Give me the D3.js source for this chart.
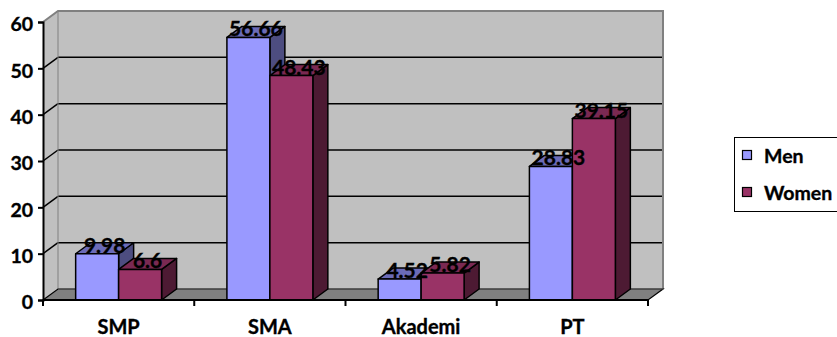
<!DOCTYPE html>
<html>
<head>
<meta charset="utf-8">
<script src="https://cdn.jsdelivr.net/npm/d3@7"></script>
<style>
  html, body { margin: 0; padding: 0; background: #fff; }
  svg { display: block; font-family: Lato, "Open Sans", sans-serif; font-weight: bold; }
  svg text { stroke: #000; stroke-width: 0.35px; }
</style>
</head>
<body>
<svg id="chart" width="837" height="337"></svg>
<script>
// Education level by gender (percent)
const categories = ["SMP", "SMA", "Akademi", "PT"];
const seriesNames = ["Men", "Women"];
const menValues = [9.98, 56.66, 4.52, 28.83];
const womenValues = [6.6, 48.43, 5.82, 39.15];
const yTicks = [0, 10, 20, 30, 40, 50, 60];

const seriesValues = [menValues, womenValues];
const colors = {
  Men:   { front: "#9999FF", top: "#6B6BB8", side: "#4D4D80" },
  Women: { front: "#993366", top: "#7A2952", side: "#4D1A33" }
};

const svg = d3.select("#chart");

// 3D depth offset of walls and bars
const DX = 15, DY = -11;

const y = d3.scaleLinear().domain([0, 60]).range([300, 22]);
const x = d3.scaleBand().domain(categories).range([43, 648]).paddingInner(0).paddingOuter(0);
const xSub = d3.scaleBand().domain(seriesNames).range([0, x.bandwidth()]).paddingInner(0).paddingOuter(0.76);

const x0 = x.range()[0], x1 = x.range()[1];
const yTop = y(60), yBase = y(0);

// Back wall
svg.append("polygon")
  .attr("points", [[x0 + DX, yTop + DY], [x1 + DX, yTop + DY], [x1 + DX, yBase + DY], [x0 + DX, yBase + DY]].join(" "))
  .attr("fill", "#C0C0C0");

// Left side wall
svg.append("polygon")
  .attr("points", [[x0, yTop], [x0 + DX, yTop + DY], [x0 + DX, yBase + DY], [x0, yBase]].join(" "))
  .attr("fill", "#C0C0C0");

// Gridlines on back and side walls
const grid = svg.append("g");
yTicks.filter(t => t > 0 && t < 60).forEach(t => {
  grid.append("line")
    .attr("x1", x0 + DX).attr("x2", x1 + DX)
    .attr("y1", y(t) + DY).attr("y2", y(t) + DY)
    .attr("stroke", "#000").attr("stroke-width", 1.5);
  grid.append("line")
    .attr("x1", x0).attr("x2", x0 + DX)
    .attr("y1", y(t)).attr("y2", y(t) + DY)
    .attr("stroke", "#000").attr("stroke-width", 1.5);
});

// Wall outlines
svg.append("polyline")
  .attr("points", [[x0, yTop], [x0 + DX, yTop + DY], [x1 + DX, yTop + DY], [x1 + DX, yBase + DY]].join(" "))
  .attr("fill", "none").attr("stroke", "#808080").attr("stroke-width", 2);
svg.append("line")
  .attr("x1", x0 + DX).attr("x2", x0 + DX).attr("y1", yTop + DY).attr("y2", yBase + DY)
  .attr("stroke", "#808080").attr("stroke-width", 1);

// Floor
svg.append("polygon")
  .attr("points", [[x0, yBase], [x0 + DX, yBase + DY], [x1 + DX, yBase + DY], [x1, yBase]].join(" "))
  .attr("fill", "#808080").attr("stroke", "#000").attr("stroke-width", 1.2);
svg.append("line")
  .attr("x1", x0 + DX).attr("x2", x1 + DX).attr("y1", yBase + DY).attr("y2", yBase + DY)
  .attr("stroke", "#5a5a5a").attr("stroke-width", 1);

// Bars
const bars = svg.append("g").attr("stroke", "#000").attr("stroke-width", 1.5).attr("stroke-linejoin", "round");
categories.forEach((cat, i) => {
  seriesNames.forEach((s, j) => {
    const v = seriesValues[j][i];
    const bx = x(cat) + xSub(s);
    const w = xSub.bandwidth();
    const yt = y(v);
    const c = colors[s];
    bars.append("polygon")
      .attr("points", [[bx + w, yt], [bx + w + DX, yt + DY], [bx + w + DX, yBase + DY], [bx + w, yBase]].join(" "))
      .attr("fill", c.side);
    bars.append("polygon")
      .attr("points", [[bx, yt], [bx + DX, yt + DY], [bx + w + DX, yt + DY], [bx + w, yt]].join(" "))
      .attr("fill", c.top);
    bars.append("rect")
      .attr("x", bx).attr("y", yt).attr("width", w).attr("height", yBase - yt)
      .attr("fill", c.front);
  });
});

// Value labels
const labels = svg.append("g").attr("font-size", 21).attr("text-anchor", "middle").attr("fill", "#000");
categories.forEach((cat, i) => {
  seriesNames.forEach((s, j) => {
    const v = seriesValues[j][i];
    labels.append("text")
      .attr("x", x(cat) + xSub(s) + xSub.bandwidth() / 2 + DX / 2)
      .attr("y", y(v) - 1)
      .text(v);
  });
});

// Y axis
const yAxis = d3.axisLeft(y).tickValues(yTicks).tickSize(5).tickPadding(5);
const gy = svg.append("g").attr("transform", `translate(${x0},0)`).call(yAxis);
gy.select(".domain").attr("stroke", "#000").attr("stroke-width", 2);
gy.selectAll(".tick line").attr("stroke", "#000").attr("stroke-width", 2);
gy.selectAll(".tick text")
  .attr("font-family", "Lato, sans-serif").attr("font-weight", "bold")
  .attr("font-size", 19.5).attr("fill", "#000").attr("dy", "0.45em");

// X axis: ticks at category boundaries
const gx = svg.append("g");
gx.append("line").attr("x1", x0).attr("x2", x1).attr("y1", yBase).attr("y2", yBase)
  .attr("stroke", "#000").attr("stroke-width", 2);
const bounds = categories.map(c => x(c)).concat([x1]);
bounds.forEach(b => {
  gx.append("line").attr("x1", b).attr("x2", b).attr("y1", yBase).attr("y2", yBase + 6)
    .attr("stroke", "#000").attr("stroke-width", 2);
});
gx.selectAll("text.cat").data(categories).join("text")
  .attr("class", "cat")
  .attr("x", d => x(d) + x.bandwidth() / 2)
  .attr("y", 334)
  .attr("text-anchor", "middle")
  .attr("font-size", 20)
  .attr("fill", "#000")
  .text(d => d);

// Legend
const legend = svg.append("g");
legend.append("rect")
  .attr("x", 734.5).attr("y", 137.5).attr("width", 120).attr("height", 74)
  .attr("fill", "#fff").attr("stroke", "#000").attr("stroke-width", 1);
seriesNames.forEach((s, j) => {
  const ly = 150 + j * 37;
  legend.append("rect")
    .attr("x", 742.5).attr("y", ly + 0.5).attr("width", 9).attr("height", 9)
    .attr("fill", colors[s].front).attr("stroke", "#000").attr("stroke-width", 1.2);
  legend.append("text")
    .attr("x", 764).attr("y", ly + 13)
    .attr("font-size", 19.5).attr("fill", "#000")
    .text(s);
});
</script>
</body>
</html>
